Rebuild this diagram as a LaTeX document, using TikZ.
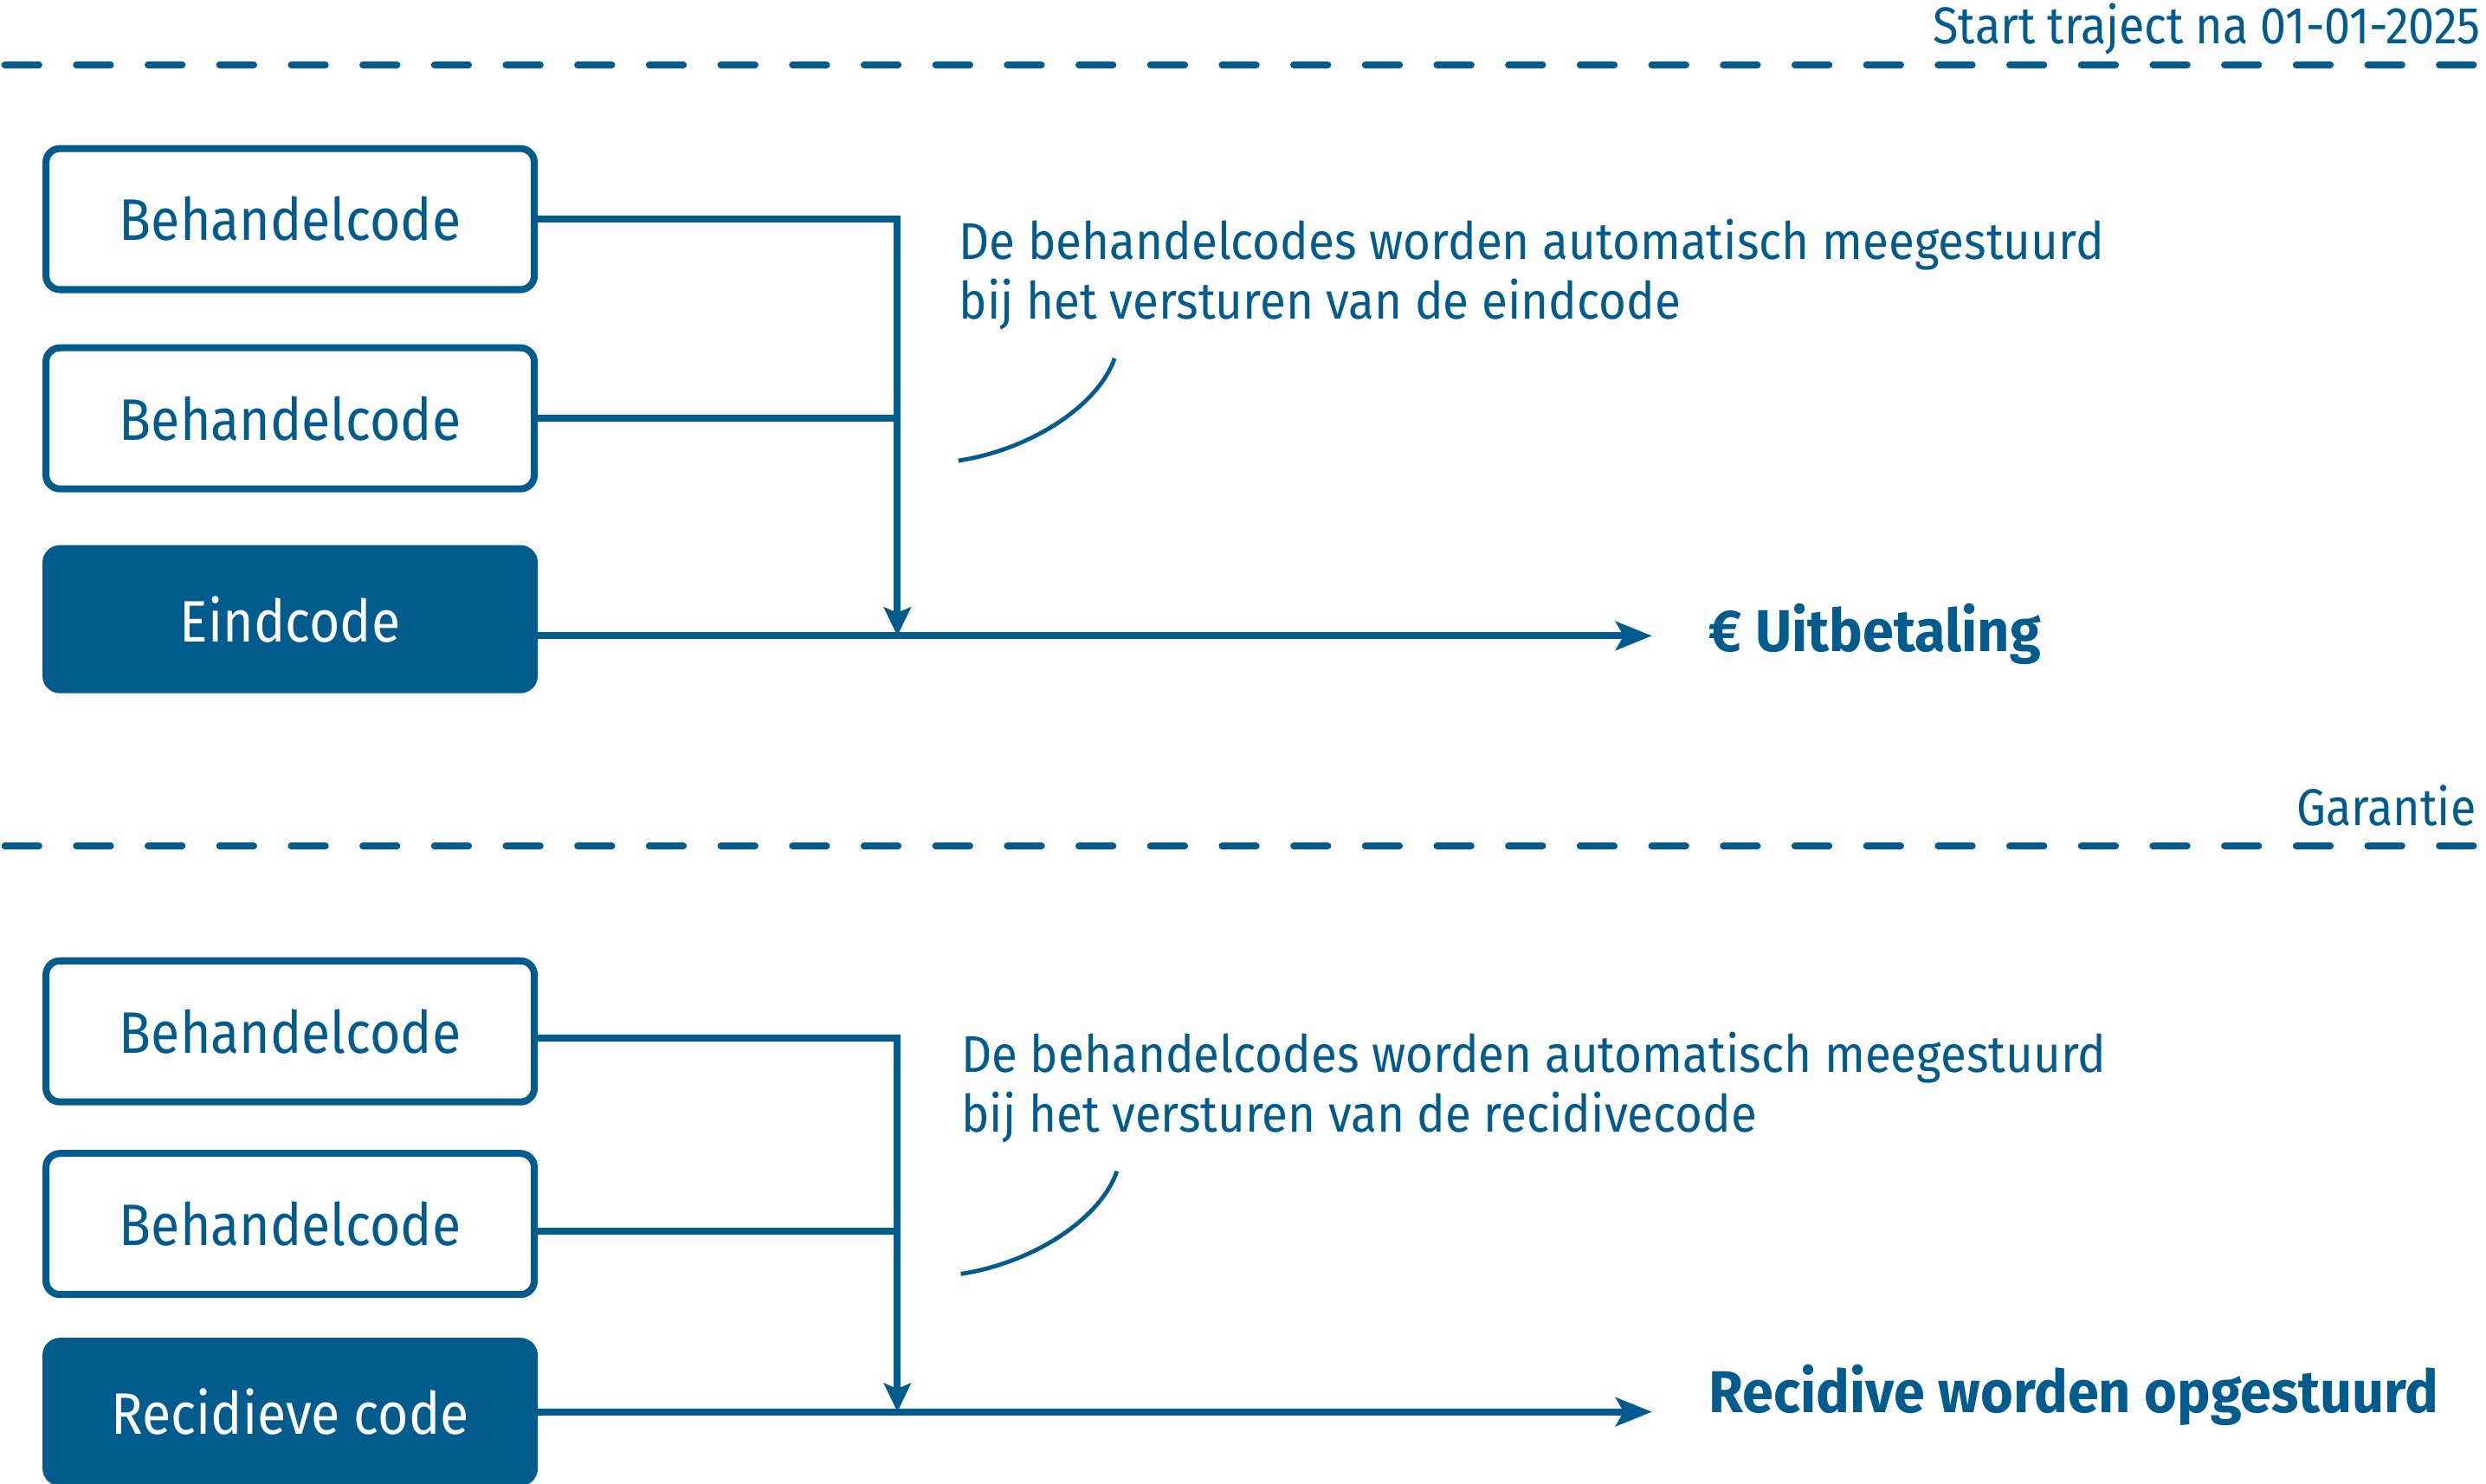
\documentclass[tikz,border=0pt]{standalone}
\usepackage{fontspec}
\setmainfont{Fira Sans}[FakeStretch=0.9]
\newfontfamily\uitlegfont{Fira Sans}[FakeStretch=0.92]
\newfontfamily\vetfont{Fira Sans}[FakeStretch=0.95]
\usetikzlibrary{arrows.meta}
\definecolor{roblue}{RGB}{1,91,141}

\begin{document}
\begin{tikzpicture}[
  codebox/.style={draw=roblue, line width=2.5pt, rounded corners=5pt, minimum width=6.16cm, minimum height=1.78cm, text=roblue, font=\fontsize{21}{25}\selectfont},
  eindbox/.style={codebox, fill=roblue, text=white},
  lijn/.style={roblue, line width=2.5pt},
  pijl/.style={lijn, -{Stealth[length=13pt, width=10.2pt, inset=2.8pt]}},
  inpijl/.style={lijn, -{Stealth[length=10.2pt, width=9.6pt, inset=1.9pt]}},
  scheiding/.style={roblue, line width=2.4pt, line cap=round, dash pattern=on 12.3pt off 13.4pt, dash phase=24pt},
  kop/.style={text=roblue, inner sep=0pt, font=\fontsize{18.6}{22}\selectfont},
  uitleg/.style={text=roblue, inner sep=0pt, align=left, font=\uitlegfont\fontsize{18.5}{21.5}\selectfont},
  uitkomst/.style={text=roblue, inner sep=0pt, font=\vetfont\fontsize{21.2}{25}\selectfont\bfseries},
  boog/.style={roblue, line width=1.5pt}
]
\useasboundingbox (0,0) rectangle (31.36,18.722);

\draw[scheiding] (0,17.904) -- (31.36,17.904);
\node[kop, anchor=base east] (start) at (31.3,18.17) {Start traject na 01-01-2025};
\node[codebox] (beh1) at (3.66,15.958) {Behandelcode};
\node[codebox] (beh2) at (3.66,13.444) {Behandelcode};
\node[eindbox] (eind) at (3.66,10.91) {Eindcode};
\coordinate (k1) at (11.32,10.70);
\coordinate (e1) at (20.84,10.70);
\draw[pijl] (eind.east |- k1) -- (e1);
\draw[inpijl] (beh1.east) -| (k1);
\draw[lijn] (beh2.east) -- (beh2.east -| k1);
\node[uitkomst, anchor=base west] (uit) at (21.55,10.5) {€ Uitbetaling};
\node[uitleg, anchor=base west] (uitleg1) at (12.09,14.7) {De behandelcodes worden automatisch meegestuurd\\bij het versturen van de eindcode};
\draw[boog] (12.09,12.91) .. controls (13.0,13.05) and (13.85,13.6) .. (14.06,14.2);

\draw[scheiding] (0,8.048) -- (31.36,8.048);
\node[kop, anchor=base east] (garantie) at (31.24,8.31) {Garantie};
\node[codebox] (beh3) at (3.66,5.71) {Behandelcode};
\node[codebox] (beh4) at (3.66,3.28) {Behandelcode};
\node[eindbox] (rec) at (3.66,0.91) {Recidieve code};
\coordinate (k2) at (11.32,0.91);
\coordinate (e2) at (20.84,0.91);
\coordinate (b3) at ([yshift=-0.8mm]beh3.east);
\coordinate (b4) at ([yshift=-0.9mm]beh4.east);
\draw[pijl] (rec.east) -- (e2);
\draw[inpijl] (b3) -| (k2);
\draw[lijn] (b4) -- (b4 -| k2);
\node[uitkomst, anchor=base west] (recid) at (21.55,0.904) {Recidive worden opgestuurd};
\node[uitleg, anchor=base west] (uitleg2) at (12.12,4.438) {De behandelcodes worden automatisch meegestuurd\\bij het versturen van de recidivecode};
\draw[boog] (12.12,2.65) .. controls (13.03,2.79) and (13.88,3.34) .. (14.09,3.946);
\end{tikzpicture}
\end{document}
